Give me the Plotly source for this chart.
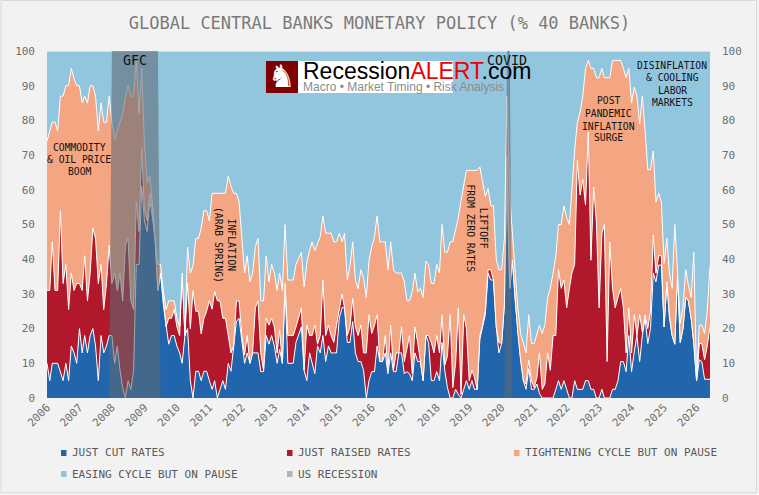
import numpy as np
import pandas as pd
import plotly.graph_objects as go

# Share of central banks (%), read as cumulative stack levels, one row per year from 2006.
cut_level = [
    10,5,10,10,10,7.5,5,10,5,15,13,10,
    20,13,18,13,18,20,15,5,18,13,15,18,
    18,10,15,8,3,0,5,2.5,8,38.5,38.5,61,
    51,48,57,52,45.5,31,36,27,20.5,15.5,18,18,
    15,13,10,18,20,5,0,7.7,7.7,5,7.7,7.7,
    5,2.5,5,0,2.5,5,2.5,10,7.7,15,22,23,
    17,10,13,10,13,13,13,7.6,7.6,18,15.5,18,
    15,10,14,10,32,10,10,10,16,18,20.5,8,
    5,13,10.5,7,15,13,18,10.5,15,13,13,13,
    23,26,26,16,16,22,13,10.5,10.5,8,0,5,
    7.6,7.6,15,10.5,10.5,13,7,13,7.6,7.6,13,13,
    7,7.6,7,5,13,10.5,10.5,5,18,16,5,5,
    7.6,5,16,8,3,0,0,2.5,1,0,2.5,5,
    2.5,5,2.5,2.5,17,21,24,36,34,34,20.5,13,
    15.7,27,62,31.6,39.7,28,18.6,11,5,2.5,8.5,2.5,
    2.5,4,1.3,0,0,0,0,0,2.5,5,2.5,5,
    2.5,0,0,5,2.5,2.5,2.5,5,5,2.5,2.5,0,
    0,2.5,0,0,0,2.5,2.5,5,10.5,10.5,7.6,18,
    7.6,13.5,18,10.5,18,23,15.7,20,36,33.5,38.3,38.3,
    20.5,33.5,23.4,18,15.5,36,16,20,29,28,23,15.7,
    5,11,10.5,5.4,5.4,5.4,
]
raised_level = [
    31,31,45,31,31,54,33,38.5,25.5,36,31,33,
    33,31,41,28,36,49,46,33,38.5,25.5,33,44,
    33,36,31,36,28,44,46,28,25.5,56.5,48,72,
    54,51,59,54,46,31,36,28,20.5,23,23,25.5,
    20.5,18,36,18,33,20,31,25,25,18.5,23,25,
    28,25.6,30.7,28,28,23,23,18,13,15,28,28,
    18,12.4,18,10,13,26,28,13,8,23,21,23,
    20.5,13,19.6,10,33,18,18,18,20.5,23,26,8,
    21,18,18,21,15.5,18,34,18,21,18,16,21,
    26,30,26,18,20.5,28.7,20.5,18,21,13,13,24,
    18.6,21,24,10.5,10.5,18,8,21,8,13,13,20.5,
    10.5,15,18,7,20.5,16,10.5,5,18,18,16,13,
    18,13,24,9.5,12,24,3,10,26,1,24,20,
    5,8,6,2.5,18,21,25,37,37,34,20.5,16,
    15.7,27,70,31.6,39.7,28,18.6,11,5,4,11,5,
    3,6,13,2.5,4,13,8,18,18,37,31.6,34,
    26,31.6,36,38.5,68.5,58.5,63,55.6,76.7,39.7,60.8,51,
    26,47.4,50,10.5,45,31.6,26,29,31.6,26,13,26,
    13,24,18,24,19,24,20,25,47,36,41,41,
    20.5,33.5,24,18,15.5,36,16,20,29,28,23,15.7,
    5,15.7,15.7,11,15,20.5,
]
tightening_level = [
    74,77,79.5,79.5,77,87,87,90,90,95,92,90,
    90,85,87,85,90,90,87,77,85,79.5,79.5,87,
    79.5,74.5,77,79.5,82,87,90,87,87,97.5,82,95,
    73,62,64,56,46,38.5,38.5,31,25.5,28,28,28,
    23,20.5,36,18,43.5,36,38,46,46,49,54,54,
    51,59,59,59,59,59,59,64,61,59,59,56.5,
    46,36,41,33.5,36,43.6,46,28,28,41,33.5,38.5,
    36,31,36,31,50,34,34,34,38.5,40,42,32,
    39,42.6,45,42.5,44.5,46.5,52.5,47.5,47.5,47.5,45,45,
    47.5,45,47.5,34,38,45,34,31.5,37,34.5,29,39.7,
    43.6,46.5,52.5,45,45,45,37,45,37,36,36,36,
    33.5,28,28,30.6,36,30.6,31.6,29,39.5,38.5,33,33,
    38.5,36,50,42,42,45,45,49,52,57,61,65.6,
    65.6,65.6,65.6,65.6,66.6,62,58,60.4,55.4,55.4,40,37,
    37,46,87,58,47,38,26,18.6,15.7,13,24,15.7,
    15.7,18.6,21,18.6,21,29,31.6,36,40.7,50,50,55.4,
    52,50,61,71.4,79.5,82.4,86.8,95,97.3,95,95,92.3,
    92.3,95,92.3,92.3,92.3,97.3,97.3,97.3,97.3,95,92.3,95,
    85,89.6,87,79,87,77,65.8,65.8,71.2,56.5,59,56.5,
    38.8,46,36,31.6,50,29,21.5,26,37,32.5,29,42,
    5,21,21,18.6,25,38,
]
recession_spans = [("2008-01-01", "2009-06-01"), ("2020-03-01", "2020-04-01")]
year_labels = [str(y) for y in range(2006, 2027)]

months = pd.date_range("2006-01-01", periods=len(cut_level), freq="MS")

# Turn the cumulative levels into the four stacked shares.
cut = np.array(cut_level, dtype=float)
raised_top = np.maximum(np.array(raised_level, dtype=float), cut)
tight_top = np.maximum(np.array(tightening_level, dtype=float), raised_top)
raised = raised_top - cut
tightening = tight_top - raised_top
easing = 100 - tight_top

recession = np.zeros(len(months))
for start, end in recession_spans:
    recession[(months >= start) & (months <= end)] = 100

BLUE, RED, ORANGE, SKY, GREY = "#2166ac", "#b2182b", "#f4a582", "#92c5de", "#b3b3b3"
MONO = "DejaVu Sans Mono, Liberation Mono, monospace"
NARROW = "Liberation Sans Narrow, Liberation Sans, sans-serif"
W, H = 759, 495
L, R, T, B = 47, 710, 51, 398


def px(x):
    return (x - L) / (R - L)


def py(y):
    return (B - y) / (B - T)


fig = go.Figure()
for name, values, colour in [
    ("JUST CUT RATES", cut, BLUE),
    ("JUST RAISED RATES", raised, RED),
    ("TIGHTENING CYCLE BUT ON PAUSE", tightening, ORANGE),
    ("EASING CYCLE BUT ON PAUSE", easing, SKY),
]:
    fig.add_trace(go.Scatter(
        x=months, y=values, name=name, mode="lines", stackgroup="banks",
        line=dict(color="white", width=1), fillcolor=colour, showlegend=False,
    ))

# Recession columns sit on the right-hand axis, above the stack.
fig.add_trace(go.Scatter(
    x=months, y=recession, name="US RECESSION", mode="none", fill="tozeroy",
    fillcolor="rgba(95,105,115,0.58)", yaxis="y2", showlegend=False,
))

annotations = []
shapes = []


def label(x, y, text, size=9.7, colour="#111111", family=MONO, angle=0, anchor="center"):
    annotations.append(dict(
        x=px(x), y=py(y), xref="paper", yref="paper", text=text, showarrow=False,
        xanchor=anchor, yanchor="middle", textangle=angle,
        font=dict(family=family, size=size, color=colour), align="center",
    ))


# Call-outs for each policy episode
for y, line in [(147, "COMMODITY"), (159, "&amp; OIL PRICE"), (171, "BOOM")]:
    label(79, y, line)
label(134.5, 60, "GFC", size=13.3)
label(507, 61, "COVID", size=13.3)
label(225, 245, "INFLATION<br>(ARAB SPRING)", angle=90)
label(476.5, 228, "LIFTOFF<br>FROM ZERO RATES", angle=90)
for y, line in [(100, "POST"), (113, "PANDEMIC"), (126, "INFLATION"), (137, "SURGE")]:
    label(608, y, line)
for y, line in [(65, "DISINFLATION"), (77, "&amp; COOLING"), (90, "LABOR"), (102, "MARKETS")]:
    label(672, y, line)

# Logo block
shapes.append(dict(type="rect", xref="paper", yref="paper", x0=px(266), x1=px(453),
                   y0=py(93), y1=py(61), fillcolor="white", line=dict(width=0)))
shapes.append(dict(type="rect", xref="paper", yref="paper", x0=px(266), x1=px(298),
                   y0=py(93), y1=py(61), fillcolor="#7f0000", line=dict(width=0)))
label(282, 76, "\u265e", size=31, colour="white", family="DejaVu Sans")
label(301, 71, 'Recession<span style="color:#ee0000">ALERT</span>.com',
      size=23, colour="black", family=NARROW, anchor="left")
label(301, 87, "Macro \u2022 Market Timing \u2022 Risk Analysis",
      size=12, colour="#8c8c8c", family=NARROW, anchor="left")

# Legend grid
for sx, y, colour, text in [
    (61, 453, BLUE, "JUST CUT RATES"),
    (287, 453, RED, "JUST RAISED RATES"),
    (514, 453, ORANGE, "TIGHTENING CYCLE BUT ON PAUSE"),
    (61, 474, SKY, "EASING CYCLE BUT ON PAUSE"),
    (287, 474, GREY, "US RECESSION"),
]:
    shapes.append(dict(type="rect", xref="paper", yref="paper", x0=px(sx), x1=px(sx + 5.5),
                       y0=py(y + 3), y1=py(y - 3), fillcolor=colour, line=dict(width=0)))
    label(sx + 9, y, text, size=11, colour="#595959", anchor="left")

# Frame around the chart
shapes.append(dict(type="rect", xref="paper", yref="paper", x0=px(1), x1=px(756.5),
                   y0=py(492.5), y1=py(0.5), line=dict(color="#d9d9d9", width=1),
                   fillcolor="rgba(0,0,0,0)", layer="below"))

tick_font = dict(family=MONO, size=11, color="#6e6e6e")
axis_y = dict(range=[0, 100], tickvals=list(range(0, 101, 10)), ticksuffix="%",
              showgrid=False, zeroline=False, tickfont=tick_font, ticks="", ticklabelstandoff=11)

fig.update_layout(
    width=W, height=H, autosize=False,
    margin=dict(l=L, r=W - R, t=T, b=H - B, pad=0),
    paper_bgcolor="#f2f2f2", plot_bgcolor=SKY, showlegend=False,
    title=dict(text="GLOBAL CENTRAL BANKS MONETARY POLICY (% 40 BANKS)",
               x=379.5 / W, xanchor="center", y=1 - 23 / H, yanchor="middle",
               font=dict(family=MONO, size=17, color="#7a7a7a")),
    xaxis=dict(range=[months[0], months[-1]], tickvals=[f"{y}-01-01" for y in year_labels],
               ticktext=year_labels, tickangle=-45, showgrid=False, zeroline=False,
               tickfont=tick_font, ticks=""),
    yaxis=axis_y,
    yaxis2=dict(axis_y, overlaying="y", side="right", anchor="x"),
    annotations=annotations, shapes=shapes,
)

fig.write_html("out.html")
